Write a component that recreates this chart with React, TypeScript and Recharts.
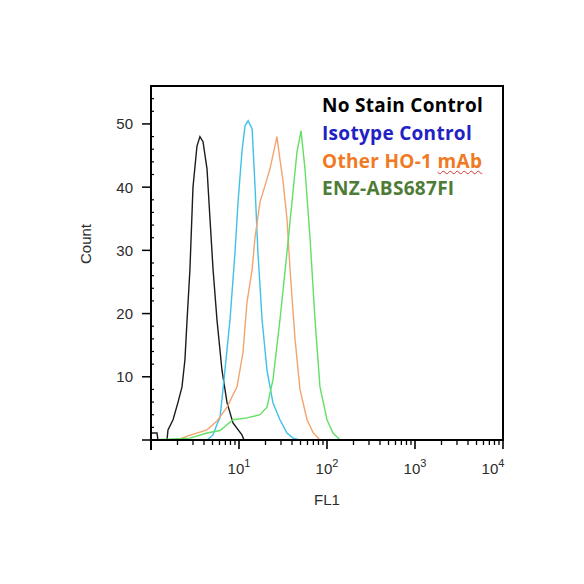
import { LineChart, Line, XAxis, YAxis, Legend, ReferenceArea } from 'recharts';

const seriesNames = ['No Stain Control', 'Isotype Control', 'Other HO-1 mAb', 'ENZ-ABS687FI'];
const lineColors = ['#1c1c1c', '#3ec2ea', '#f3a46e', '#63df63'];
const legendColors = ['#000000', '#2222c4', '#f07a24', '#4e7c36'];

// FL1 channel values (log axis) and event counts
const noStainFL1 = [1, 1.17, 1.2, 1.52, 1.56, 1.78, 2.03, 2.25, 2.43, 2.57, 2.77, 3.0, 3.33, 3.6, 3.9, 4.33, 4.68, 5.07, 5.62, 6.41, 7.31, 8.55, 10.8, 11.4, 10000];
const noStainCount = [1.1, 1.1, 0, 0, 1.6, 3.2, 6, 8.4, 12.7, 19, 27, 40, 46.5, 48, 47.2, 42.9, 35, 27, 19, 11, 5.9, 2.7, 0.8, 0, 0];

const isotypeFL1 = [1, 4.33, 5.07, 5.62, 6.08, 6.58, 7.9, 9.01, 9.75, 10.8, 11.7, 12.7, 14.1, 15.2, 16.4, 18.3, 20.8, 24.3, 29.2, 35.1, 41.1, 49.3, 10000];
const isotypeCount = [0, 0, 0.8, 2.5, 3.5, 8, 19, 29.7, 37.6, 45.6, 49.7, 50.5, 49.2, 40.2, 29.7, 19, 11, 5.9, 3.2, 1.1, 0.3, 0, 0];

const otherFL1 = [1, 2.03, 2.57, 4.33, 5.62, 7.31, 9.49, 11.1, 12.3, 14.1, 15.2, 17.3, 19.7, 22.5, 25.6, 27.0, 29.2, 31.6, 35.1, 38.0, 43.3, 49.3, 59.3, 69.3, 83.2, 10000];
const otherCount = [0, 0, 0.6, 1.6, 3.0, 5.2, 8.4, 13.8, 21.7, 27, 32, 37.6, 40.2, 42.9, 46.5, 48, 44.4, 41, 35, 27, 16, 8, 3.2, 1.2, 0, 0];

const enzFL1 = [1, 2.77, 4.33, 6.08, 8.55, 12.3, 17.3, 20.8, 24.3, 29.2, 35.1, 40.0, 45.6, 50.7, 56.2, 64.1, 73.1, 83.2, 100, 117, 141, 10000];
const enzCount = [0, 0.3, 1.1, 1.5, 3.2, 3.5, 4, 5.2, 9.5, 19, 29.7, 37.6, 45.6, 48.9, 42.9, 32, 19, 8.4, 3.2, 1.1, 0, 0];

const xMajor = [1, 10, 100, 1000, 10000];
const xMinorSteps = [2, 3, 4, 5, 6, 7, 8, 9];
const yTicks = [0, 2, 4, 6, 8, 10, 12, 14, 16, 18, 20, 22, 24, 26, 28, 30, 32, 34, 36, 38, 40, 42, 44, 46, 48, 50, 52, 54];
const yMax = 56;

const xTicks: number[] = [];
xMajor.forEach((m, i) => {
  xTicks.push(m);
  if (i < xMajor.length - 1) xMinorSteps.forEach((s) => xTicks.push(m * s));
});

const toPoints = (fl1: number[], count: number[]) => fl1.map((v, i) => ({ fl1: v, count: count[i] }));

const series = [
  toPoints(noStainFL1, noStainCount),
  toPoints(isotypeFL1, isotypeCount),
  toPoints(otherFL1, otherCount),
  toPoints(enzFL1, enzCount),
];

const axisFont = '"Liberation Sans", Arial, sans-serif';
const axisText = '#2b2b2b';

const XTick = (props: any) => {
  const { x, y, payload } = props;
  const v = payload.value;
  const major = xMajor.includes(v);
  const exp = Math.round(Math.log10(v));
  const last = v === xMajor[xMajor.length - 1];
  return (
    <g>
      <line x1={x} x2={x} y1={y} y2={y + (major ? 9 : 5)} stroke="#000" strokeWidth={major ? 1.6 : 1.3} />
      {major && exp > 0 && (
        <text x={last ? x - 10 : x} y={y + 34} textAnchor="middle" fontSize={15} fill={axisText} fontFamily={axisFont}>
          10<tspan dy={-7} fontSize={11}>{exp}</tspan>
        </text>
      )}
    </g>
  );
};

const YTick = (props: any) => {
  const { x, y, payload } = props;
  const v = payload.value;
  const major = v % 10 === 0;
  return (
    <g>
      {major ? (
        <line x1={x - 9} x2={x} y1={y} y2={y} stroke="#000" strokeWidth={1.5} />
      ) : (
        <line x1={x} x2={x + 3} y1={y} y2={y} stroke="#000" strokeWidth={1.2} />
      )}
      {v === 0 && <line x1={x} x2={x} y1={y} y2={y + 10} stroke="#000" strokeWidth={2} />}
      {major && v > 0 && (
        <text x={x - 18} y={y + 5.5} textAnchor="end" fontSize={15} fill={axisText} fontFamily={axisFont}>
          {v}
        </text>
      )}
    </g>
  );
};

const CountTitle = () => (
  <text x={91} y={244} transform="rotate(-90 91 244)" textAnchor="middle" fontSize={15} fill={axisText} fontFamily={axisFont}>
    Count
  </text>
);

const FL1Title = () => (
  <text x={327} y={505} textAnchor="middle" fontSize={15} fill={axisText} fontFamily={axisFont}>
    FL1
  </text>
);

const LegendBox = () => (
  <div style={{ fontFamily: '"Open Sans", sans-serif', fontWeight: 700, fontSize: 19, lineHeight: '27.8px', letterSpacing: 0.3, whiteSpace: 'nowrap' }}>
    {seriesNames.map((name, i) => {
      const wavy = name.endsWith('mAb');
      return (
        <div key={name} style={{ color: legendColors[i] }}>
          {wavy ? name.slice(0, -3) : name}
          {wavy && (
            <span style={{ textDecorationLine: 'underline', textDecorationStyle: 'wavy', textDecorationColor: '#d83030', textDecorationThickness: 1, textUnderlineOffset: 2 }}>
              mAb
            </span>
          )}
        </div>
      );
    })}
  </div>
);

export default function App() {
  return (
    <div style={{ position: 'absolute', left: 0, top: 0, width: 584, height: 584, background: '#fff' }}>
      <LineChart width={584} height={584} margin={{ top: 86, right: 81, left: 91, bottom: 79 }}>
        <XAxis
          dataKey="fl1"
          type="number"
          scale="log"
          domain={[1, 10000]}
          allowDataOverflow
          ticks={xTicks}
          interval={0}
          tickSize={0}
          tickMargin={0}
          height={65}
          tick={<XTick />}
          axisLine={{ stroke: '#000', strokeWidth: 2 }}
          label={<FL1Title />}
        />
        <YAxis
          type="number"
          domain={[0, yMax]}
          allowDataOverflow
          ticks={yTicks}
          interval={0}
          tickSize={0}
          tickMargin={0}
          width={60}
          tick={<YTick />}
          axisLine={{ stroke: '#000', strokeWidth: 2 }}
          label={<CountTitle />}
        />
        <ReferenceArea x1={1} x2={10000} y1={0} y2={yMax} fill="none" stroke="#000" strokeWidth={2} ifOverflow="visible" />
        <Legend
          layout="vertical"
          verticalAlign="middle"
          align="center"
          wrapperStyle={{ top: 92, left: 322, width: 'auto', height: 'auto' }}
          content={<LegendBox />}
        />
        {series.map((data, i) => (
          <Line
            key={seriesNames[i]}
            data={data}
            dataKey="count"
            name={seriesNames[i]}
            type="linear"
            stroke={lineColors[i]}
            strokeWidth={1.4}
            dot={false}
            activeDot={false}
            isAnimationActive={false}
          />
        ))}
      </LineChart>
    </div>
  );
}
